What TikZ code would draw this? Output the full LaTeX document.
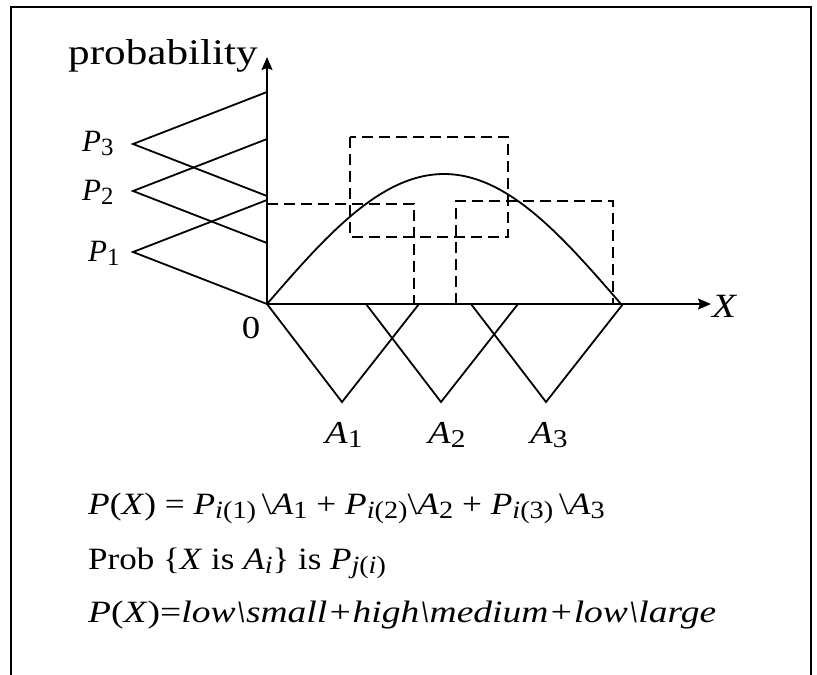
\documentclass[tikz,border=0pt]{standalone}
\usepackage{fontspec}
\setmainfont{Liberation Serif}
\usepackage{graphicx}
\usetikzlibrary{arrows.meta}
\newcommand{\hx}[2][1.15]{\scalebox{#1}[1]{#2}}
\newcommand{\lo}[1]{\raisebox{-0.15em}{\scalebox{0.8}{#1}}}
\newcommand{\bs}{\textbackslash}

\begin{document}
\begin{tikzpicture}[x=1pt, y=-1pt,
  lbl/.style={inner sep=0pt, font=\fontsize{31}{35}\selectfont},
  eqn/.style={inner sep=0pt, anchor=base west, font=\fontsize{31}{36}\selectfont},
  ln/.style={line width=1.8pt},
  dsh/.style={line width=1.5pt, dash pattern=on 11pt off 6pt},
  axis/.style={line width=1.5pt, -{Stealth[length=13pt, width=11pt, inset=2pt]}}]
  \useasboundingbox (0,0) rectangle (817,675);
  % frame, open at the bottom
  \draw[line width=2pt] (11,675) -- (11,7) -- (811,7) -- (811,675);
  % axes
  \coordinate (O) at (267,304);
  \coordinate (ytop) at (267,57);
  \coordinate (xend) at (711,304);
  \coordinate (xbase) at (622,304);
  \draw[axis] (O) -- (ytop);
  \draw[axis] (O) -- (xend);
  \draw[line width=2.4pt] (O) -- (xbase);
  % probability triangles
  \foreach \i/\y in {1/252, 2/191, 3/144} {
    \coordinate (p\i) at (133,\y);
    \draw[ln] (267,\y-52) -- (p\i) -- (267,\y+52);
  }
  % fuzzy sets A1..A3
  \foreach \i/\s in {1/267, 2/366, 3/471} {
    \coordinate (a\i) at (\s+75,402);
    \draw[ln] (\s,304) -- (a\i) -- (\s+152,304);
  }
  % the curve
  \draw[ln] plot[domain=0:1, samples=80, smooth] ({267+354*\x},{304-130*sin(180*\x)});
  % dashed boxes
  \draw[dsh] (267,204) -- (414,204) -- (414,304);
  \draw[dsh] (350,137) rectangle (508,237);
  \draw[dsh] (456,304) -- (456,201) -- (613,201) -- (613,304);
  % labels
  \node[lbl, anchor=base east, font=\fontsize{36}{40}\selectfont] (prob) at (258,64) {\hx[1.2]{probability}};
  \node[lbl, anchor=base west] (P3) at (82,151) {\hx[1.0]{\textit{P}\lo{3}}};
  \node[lbl, anchor=base west] (P2) at (82,200) {\hx[1.0]{\textit{P}\lo{2}}};
  \node[lbl, anchor=base west] (P1) at (88,261) {\hx[1.0]{\textit{P}\lo{1}}};
  \node[lbl, anchor=base, font=\fontsize{32}{36}\selectfont] (zero) at (251,338) {\hx{0}};
  \node[lbl, anchor=base west, font=\fontsize{34}{38}\selectfont] (xlab) at (712,317) {\hx{\textit{X}}};
  \foreach \i/\s in {1/325, 2/428, 3/530}
    \node[lbl, anchor=base west, font=\fontsize{32}{36}\selectfont] (A\i) at (\s,443) {\hx{\textit{A}\lo{\i}}};
  % formulas
  \node[eqn] (eq1) at (88,514) {\hx[1.14]{\textit{P}(\textit{X}) = \textit{P}\lo{\textit{i}(1)}\,\bs\textit{A}\lo{1} + \textit{P}\lo{\textit{i}(2)}\bs\textit{A}\lo{2} + \textit{P}\lo{\textit{i}(3)}\,\bs\textit{A}\lo{3}}};
  \node[eqn] (eq2) at (88,569) {\hx[1.13]{Prob \{\textit{X} is \textit{A\lo{i}}\} is \textit{P}\lo{\textit{j}(\textit{i})}}};
  \node[eqn] (eq3) at (88,622) {\hx[1.21]{\textit{P}(\textit{X})=\textit{low\bs small+high\bs medium+low\bs large}}};
\end{tikzpicture}
\end{document}
